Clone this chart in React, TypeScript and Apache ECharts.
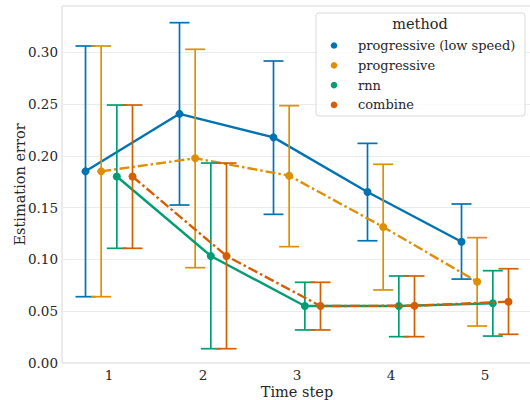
import React, { useEffect, useRef } from "react";
import * as echarts from "echarts";

const steps = [1, 2, 3, 4, 5];
const methods = ["progressive (low speed)", "progressive", "rnn", "combine"];

const lowSpeedMean = [0.185, 0.2405, 0.2178, 0.165, 0.117];
const lowSpeedLow = [0.064, 0.1525, 0.1435, 0.118, 0.081];
const lowSpeedHigh = [0.306, 0.3285, 0.2915, 0.212, 0.1535];

const progMean = [0.185, 0.1976, 0.1808, 0.1313, 0.0785];
const progLow = [0.064, 0.092, 0.1123, 0.0705, 0.0357];
const progHigh = [0.306, 0.3028, 0.2484, 0.1918, 0.121];

const rnnMean = [0.18, 0.1033, 0.055, 0.055, 0.0576];
const rnnLow = [0.1107, 0.0138, 0.0319, 0.0254, 0.026];
const rnnHigh = [0.249, 0.193, 0.0779, 0.084, 0.0891];

const combMean = [0.18, 0.1033, 0.055, 0.0553, 0.0592];
const combLow = [0.1107, 0.0138, 0.0319, 0.0254, 0.0277];
const combHigh = [0.249, 0.193, 0.0779, 0.084, 0.091];

const yTicks = { min: 0, max: 0.3446, interval: 0.05 };

const colors = ["#0173B2", "#DE8F05", "#029E73", "#D55E00"];
const dodge = [-0.25, -0.0833, 0.0833, 0.25];
const dashes: any[] = ["solid", [10, 3, 2.5, 3], "solid", [10, 3, 2.5, 3]];
const FONT = "DejaVu Serif";
const TEXT = "#262626";

export default function App() {
  const ref = useRef<HTMLDivElement>(null);
  useEffect(() => {
    if (!ref.current) return;
    const chart = echarts.init(ref.current, undefined, { renderer: "svg" });
    const groups = [
      [lowSpeedMean, lowSpeedLow, lowSpeedHigh],
      [progMean, progLow, progHigh],
      [rnnMean, rnnLow, rnnHigh],
      [combMean, combLow, combHigh],
    ];
    const series: any[] = [];
    groups.forEach(([mean, lo, hi], i) => {
      const color = colors[i];
      series.push({
        type: "custom",
        name: methods[i] + " err",
        z: 2 + i * 2,
        data: steps.map((s, k) => [s + dodge[i], lo[k], hi[k]]),
        encode: { x: 0, y: [1, 2] },
        renderItem: (params: any, api: any) => {
          const x = api.value(0);
          const pLo = api.coord([x, api.value(1)]);
          const pHi = api.coord([x, api.value(2)]);
          const hw = 10;
          const st = { stroke: color, lineWidth: 1.7 };
          return {
            type: "group",
            children: [
              { type: "line", shape: { x1: pLo[0], y1: pLo[1], x2: pHi[0], y2: pHi[1] }, style: st },
              { type: "line", shape: { x1: pLo[0] - hw, y1: pLo[1], x2: pLo[0] + hw, y2: pLo[1] }, style: st },
              { type: "line", shape: { x1: pHi[0] - hw, y1: pHi[1], x2: pHi[0] + hw, y2: pHi[1] }, style: st },
            ],
          };
        },
      });
      series.push({
        type: "line",
        name: methods[i],
        z: 3 + i * 2,
        data: steps.map((s, k) => [s + dodge[i], mean[k]]),
        symbol: "circle",
        symbolSize: 8,
        showSymbol: true,
        itemStyle: { color },
        lineStyle: { color, width: 2.4, type: dashes[i] },
      });
    });

    const legendGraphics: any[] = [];
    methods.forEach((m, i) => {
      const y = 45.5 + i * 19.8;
      legendGraphics.push({
        type: "circle",
        z: 52,
        shape: { cx: 334, cy: y, r: 3.3 },
        style: { fill: colors[i] },
      });
      legendGraphics.push({
        type: "text",
        z: 52,
        x: 358,
        y,
        style: {
          text: m,
          font: "13px 'DejaVu Serif'",
          fontFamily: FONT,
          fontSize: 13,
          fill: TEXT,
          align: "left",
          verticalAlign: "middle",
        },
      });
    });

    chart.setOption({
      animation: false,
      textStyle: { fontFamily: FONT, color: TEXT },
      grid: {
        left: 62,
        top: 6,
        width: 470,
        height: 357,
        outerBoundsMode: "none",
        containLabel: false,
        show: true,
        borderColor: "#d6d6d6",
        borderWidth: 1,
        backgroundColor: "#fff",
      },
      xAxis: {
        type: "value",
        min: 0.5,
        max: 5.5,
        interval: 0.5,
        name: "Time step",
        nameLocation: "middle",
        nameGap: 21,
        nameMoveOverlap: false,
        nameTextStyle: { fontFamily: FONT, fontSize: 14.5, color: TEXT },
        axisLine: { show: false },
        axisTick: { show: false },
        splitLine: { show: false },
        axisLabel: {
          fontFamily: FONT,
          fontSize: 13.5,
          color: TEXT,
          margin: 5,
          showMinLabel: false,
          showMaxLabel: false,
          formatter: (v: number) => (Number.isInteger(v) ? String(v) : ""),
        },
      },
      yAxis: {
        type: "value",
        min: yTicks.min,
        max: yTicks.max,
        interval: yTicks.interval,
        name: "Estimation error",
        nameLocation: "middle",
        nameGap: 35,
        nameMoveOverlap: false,
        nameTextStyle: { fontFamily: FONT, fontSize: 14.5, color: TEXT },
        axisLine: { show: false },
        axisTick: { show: false },
        splitLine: { show: true, lineStyle: { color: "#ebebeb", width: 1 } },
        axisLabel: {
          fontFamily: FONT,
          fontSize: 13.5,
          color: TEXT,
          margin: 4,
          showMaxLabel: false,
          formatter: (v: number) => v.toFixed(2),
        },
      },
      graphic: [
        {
          type: "rect",
          z: 50,
          shape: { x: 316, y: 13, width: 209, height: 103, r: 3 },
          style: { fill: "rgba(255,255,255,0.8)", stroke: "#d9d9d9", lineWidth: 1 },
        },
        {
          type: "text",
          z: 51,
          x: 420,
          y: 23.5,
          style: {
            text: "method",
            fontFamily: FONT,
            fontSize: 14.5,
            fill: TEXT,
            align: "center",
            verticalAlign: "middle",
          },
        },
        ...legendGraphics,
      ],
      series,
    });
    return () => chart.dispose();
  }, []);
  return (
    <div
      ref={ref}
      style={{ position: "fixed", left: 0, top: 0, width: 530, height: 400, background: "#fff" }}
    />
  );
}
